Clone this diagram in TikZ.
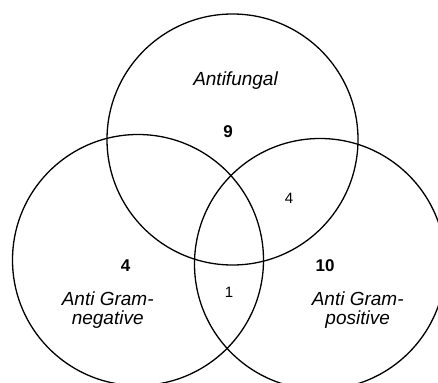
\documentclass[tikz,border=0pt]{standalone}
\usepackage{fontspec}
\setmainfont{Liberation Sans}
\usetikzlibrary{positioning}

\begin{document}
\begin{tikzpicture}[x=1pt, y=-1pt]
\tikzstyle{set}=[circle, draw=black, line width=1.3pt, minimum size=251pt, inner sep=0pt]
\tikzstyle{setname}=[font=\fontsize{19}{18.5}\selectfont\itshape, align=center, inner sep=0pt]
\tikzstyle{count}=[font=\fontsize{17}{20}\selectfont\bfseries, inner sep=0pt]
\tikzstyle{overlap}=[font=\fontsize{15}{17}\selectfont, inner sep=0pt]

\useasboundingbox (0,0) rectangle (438,382);
\clip (0,0) rectangle (438,382);

% the three sets
\node (fungal) [set] at (232.5,139.5) {};
\node (gramneg) [set] at (138,260) {};
\node (grampos) [set] at (320,264) {};

% labels and counts
\node (fungalname) [setname] at (235.5,80.8) {Antifungal};
\node (fungalnum) [count] at (228,131.7) {9};
\node (fpnum) [overlap] at (289,198) {4};
\node (negnum) [count] at (125.5,265.3) {4};
\node (negname) [setname] at (107.7,310.2) {Anti Gram-\\negative};
\node (allnum) [overlap] at (229,292.8) {1};
\node (posnum) [count] at (325,265.3) {10};
\node (posname) [setname] at (357.7,310.2) {Anti Gram-\\positive};

\end{tikzpicture}
\end{document}
